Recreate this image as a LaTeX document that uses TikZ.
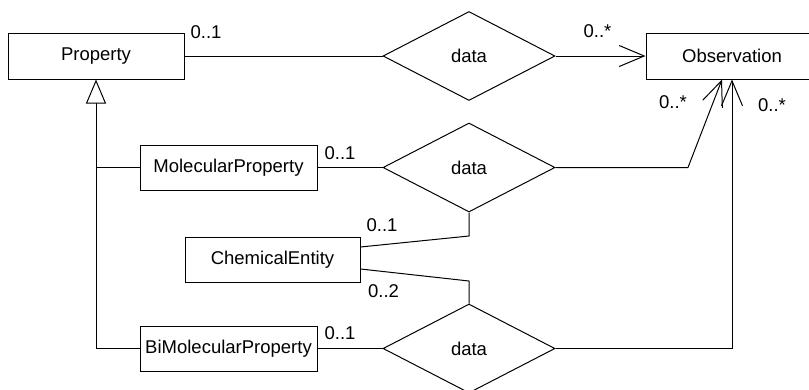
\documentclass[tikz,border=0pt]{standalone}
\usepackage{fontspec}
\setmainfont{Liberation Sans}
\usetikzlibrary{shapes.geometric,arrows.meta}

\begin{document}
\begin{tikzpicture}[x=1pt, y=-1pt, line width=1pt,
  cls/.style={draw, rectangle, inner sep=0pt, minimum height=46pt,
              font=\fontsize{18.5}{20}\selectfont},
  rel/.style={draw, diamond, inner sep=0pt, minimum width=172pt,
              minimum height=89pt, font=\fontsize{18.5}{20}\selectfont},
  mult/.style={inner sep=0pt, font=\fontsize{18.5}{20}\selectfont},
  nav/.style={-{Straight Barb[length=25pt, width=21pt]}},
  gen/.style={-{Triangle[open, length=24pt, width=20pt, fill=white]}}]

\useasboundingbox (0,0) rectangle (809,389);
\clip (0,0) rectangle (809,389);

% classes
\node[cls, minimum width=176pt] (prop)  at (96,56)      {Property};
\node[cls, minimum width=172pt] (obs)   at (732,56)     {Observation};
\node[cls, minimum width=177pt, minimum height=45pt] (mol)   at (228.5,167.5) {MolecularProperty};
\node[cls, minimum width=175pt, minimum height=45pt] (chem)  at (272.5,259.5) {ChemicalEntity};
\node[cls, minimum width=177pt, minimum height=45pt] (bimol) at (228.5,348.5) {BiMolecularProperty};

% association diamonds
\node[rel] (d1) at (469,56)    {data};
\node[rel] (d2) at (469,167.5) {data};
\node[rel] (d3) at (469,348.5) {data};

% bend points
\coordinate (k1) at (688,167.5);
\coordinate (c1) at (469,236);
\coordinate (c2) at (469,281);

% associations
\draw (prop.east) -- (d1.west);
\draw[nav] (d1.east) -- (obs.west);

\draw (mol.east) -- (d2.west);
\draw[nav] (d2.east) -- (k1) -- ([xshift=-10pt]obs.south);
\draw (d2.south) -- (c1) -- ([yshift=12.5pt]chem.east);

\draw ([yshift=-9.5pt]chem.east) -- (c2) -- (d3.north);
\draw (bimol.east) -- (d3.west);
\draw[nav] (d3.east) -- (d3.east -| obs.south) -- (obs.south);

% generalisation
\draw[gen] (bimol.west) -| (prop.south);
\draw (mol.west) -- (mol.west -| prop.south);

% multiplicities
\node[mult] (m1) at (206,32)      {0..1};
\node[mult] (m2) at (597.5,31)    {0..*};
\node[mult] (m3) at (673,102)     {0..*};
\node[mult] (m4) at (772,105)     {0..*};
\node[mult] (m5) at (340,153.5)   {0..1};
\node[mult] (m6) at (382,225)     {0..1};
\node[mult] (m7) at (383.5,291.5) {0..2};
\node[mult] (m8) at (340,333)     {0..1};
\end{tikzpicture}
\end{document}
